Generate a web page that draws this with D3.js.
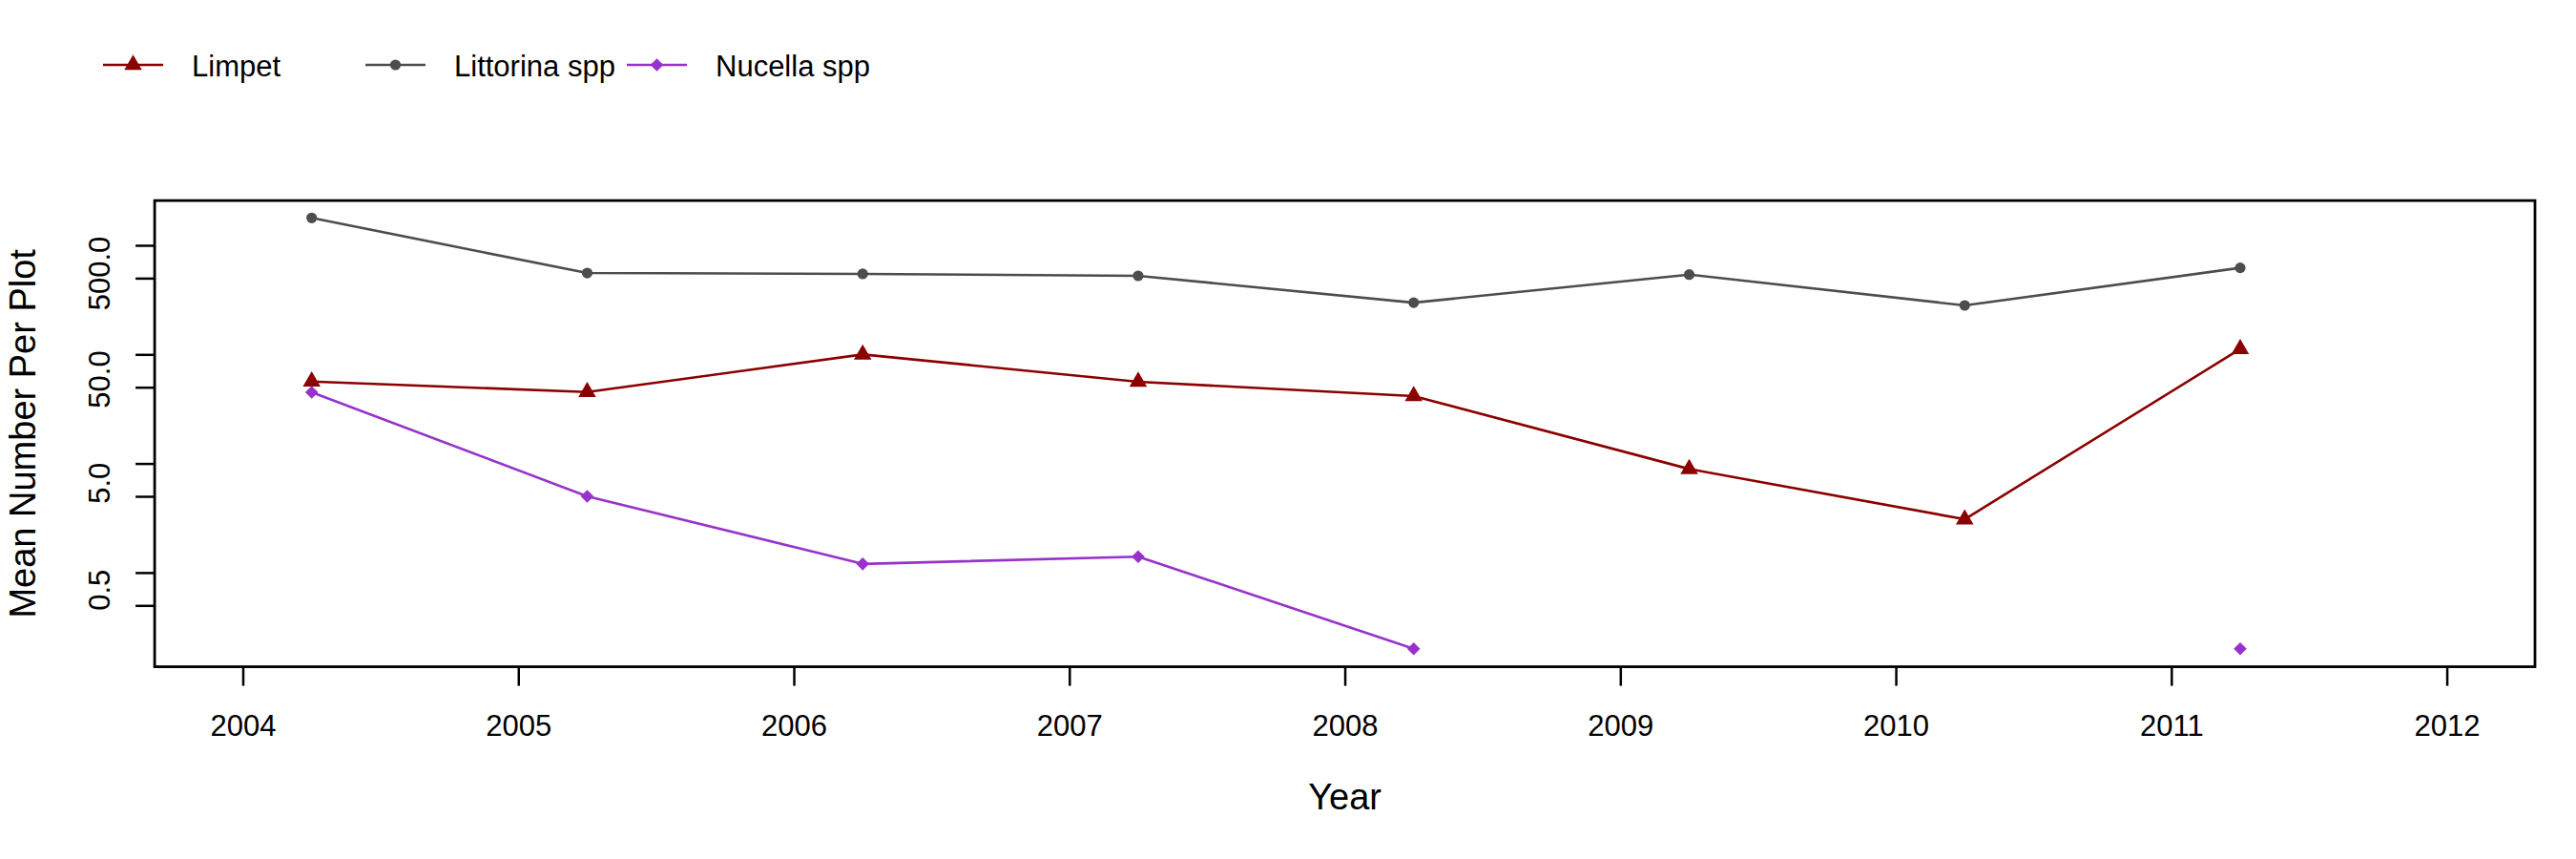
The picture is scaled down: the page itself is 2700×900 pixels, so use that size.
<!DOCTYPE html>
<html><head><meta charset="utf-8">
<script src="https://cdn.jsdelivr.net/npm/d3@7"></script>
<style>
body{margin:0;background:#fff}
svg{display:block}
text{font-family:"Liberation Sans",Arial,Helvetica,sans-serif;fill:#000}
</style>
</head><body>
<svg id="chart" width="2700" height="900"></svg>
<script>
// ---- data ----
const years = [2004.25, 2005.25, 2006.25, 2007.25, 2008.25, 2009.25, 2010.25, 2011.25];
const limpet = [56.4, 45.2, 99.8, 56.1, 41.5, 8.9, 3.08, 112];
const littorina = [1782, 557, 547, 525, 298, 539, 281, 621];
const nucella = [45, 5.0, 1.2, 1.4, 0.2, null, null, 0.2];
const seriesNames = ["Limpet", "Littorina spp", "Nucella spp"];
const xTicks = [2004, 2005, 2006, 2007, 2008, 2009, 2010, 2011, 2012];
const yTicks = [0.5, 1, 5, 10, 50, 100, 500, 1000];
const yLabels = ["0.5", "5.0", "50.0", "500.0"];
const yLabelAt = [0.69, 6.6, 59, 552];
const xLim = [2003.68, 2012.32];
const yLim = [0.137, 2570];

// ---- layout ----
const svg = d3.select("#chart");
const x = d3.scaleLinear().domain([2004, 2012]).range([254.5, 2564.6]);
const y = d3.scaleLog().domain([0.5, 500]).range([634.3, 291.4]);

const colors = {"Limpet": "#8B0000", "Littorina spp": "#4D4D4D", "Nucella spp": "#9932CC"};
const values = {"Limpet": limpet, "Littorina spp": littorina, "Nucella spp": nucella};
const shapes = {"Limpet": "tri", "Littorina spp": "circle", "Nucella spp": "diamond"};

function markerPath(kind) {
  if (kind === "tri") {
    const s = 6.86, r = 1.5551 * s, xc = 1.3468 * s, yc = 0.7776 * s;
    return `M0,${-r}L${xc},${yc}L${-xc},${yc}Z`;
  }
  if (kind === "diamond") {
    const d = 6.8;
    return `M0,${-d}L${d},0L0,${d}L${-d},0Z`;
  }
  const r = 5.6;
  return `M${-r},0A${r},${r} 0 1,0 ${r},0A${r},${r} 0 1,0 ${-r},0Z`;
}

// axes
const xAxis = d3.axisBottom(x).tickValues(xTicks).tickSize(20).tickSizeOuter(0)
  .tickPadding(30).tickFormat(d3.format("d"));
const gx = svg.append("g").attr("transform", `translate(0,${y(yLim[0])})`).call(xAxis);
gx.select(".domain").remove();
gx.selectAll(".tick line").attr("stroke", "#000").attr("stroke-width", 2.5);
gx.selectAll(".tick text").attr("font-size", 31).attr("fill", "#000")
  .attr("font-family", '"Liberation Sans",Arial,sans-serif');

const yAxis = d3.axisLeft(y).tickValues(yTicks).tickSize(20).tickSizeOuter(0).tickFormat("");
const gy = svg.append("g").attr("transform", `translate(${x(xLim[0])},0)`).call(yAxis);
gy.select(".domain").remove();
gy.selectAll(".tick line").attr("stroke", "#000").attr("stroke-width", 2.5);

svg.append("g").selectAll("text").data(yLabels).join("text")
  .attr("transform", (d, i) => `translate(115,${y(yLabelAt[i])}) rotate(-90)`)
  .attr("text-anchor", "middle").attr("font-size", 31).text(d => d);

// box
svg.append("rect")
  .attr("x", x(xLim[0])).attr("y", y(yLim[1]))
  .attr("width", x(xLim[1]) - x(xLim[0])).attr("height", y(yLim[0]) - y(yLim[1]))
  .attr("fill", "none").attr("stroke", "#000").attr("stroke-width", 2.8);

// axis titles
svg.append("text").attr("x", (x(xLim[0]) + x(xLim[1])) / 2).attr("y", 848)
  .attr("text-anchor", "middle").attr("font-size", 38).text("Year");
svg.append("text")
  .attr("transform", `translate(37,${(y(yLim[0]) + y(yLim[1])) / 2}) rotate(-90)`)
  .attr("text-anchor", "middle").attr("font-size", 38).text("Mean Number Per Plot");

// series
const line = d3.line().defined(d => d.v != null).x(d => x(d.t)).y(d => y(d.v));
seriesNames.forEach(name => {
  const pts = years.map((t, i) => ({t, v: values[name][i]}));
  svg.append("path").datum(pts).attr("d", line).attr("fill", "none")
    .attr("stroke", colors[name]).attr("stroke-width", 2.6).attr("stroke-linejoin", "round");
  svg.append("g").selectAll("path").data(pts.filter(d => d.v != null)).join("path")
    .attr("transform", d => `translate(${x(d.t)},${y(d.v)})`)
    .attr("d", markerPath(shapes[name])).attr("fill", colors[name]);
});

// legend
const legendX = [108, 383, 657];
const lg = svg.append("g");
seriesNames.forEach((name, i) => {
  const x0 = legendX[i];
  lg.append("line").attr("x1", x0).attr("x2", x0 + 63).attr("y1", 68).attr("y2", 68)
    .attr("stroke", colors[name]).attr("stroke-width", 2.6);
  lg.append("path").attr("transform", `translate(${x0 + 31.5},68)`)
    .attr("d", markerPath(shapes[name])).attr("fill", colors[name]);
  lg.append("text").attr("x", x0 + 93).attr("y", 80).attr("font-size", 31).text(name);
});
</script>
</body></html>
